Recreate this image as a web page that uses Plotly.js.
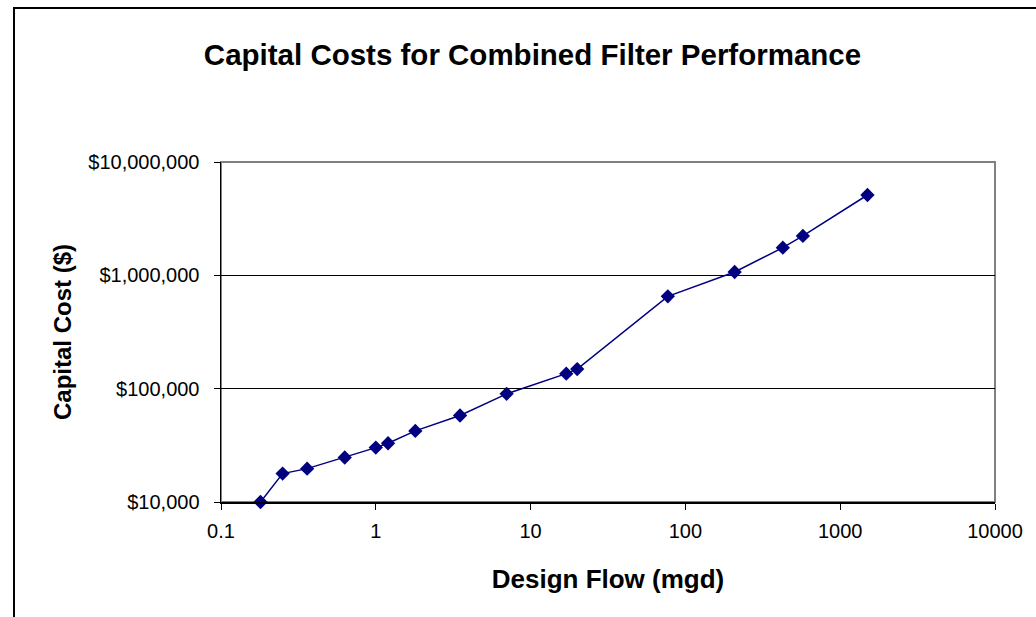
<!DOCTYPE html>
<html>
<head>
<meta charset="utf-8">
<script src="https://cdn.plot.ly/plotly-3.0.1.min.js"></script>
<style>
  html, body { margin: 0; padding: 0; background: #fff; }
  #wrap { position: relative; width: 1036px; height: 617px; }
  #chart { width: 1036px; height: 617px; }
  #frame { position: absolute; left: 13px; top: 7px; width: 1040px; height: 620px;
           border-top: 2px solid #000; border-left: 2px solid #000; pointer-events: none; }
</style>
</head>
<body>
<div id="wrap">
  <div id="chart"></div>
  <div id="frame"></div>
</div>
<script>
// Design flow (mgd)
const designFlow = [0.18, 0.25, 0.36, 0.63, 1.0, 1.2, 1.8, 3.5, 7.0, 17, 20, 77, 208, 426, 574, 1500];
// Capital cost ($)
const capitalCost = [10000, 17800, 19700, 24700, 30200, 33000, 42400, 58000, 90000, 135700, 149000, 653000, 1070000, 1754000, 2225000, 5115000];

const xTickVals = [0.1, 1, 10, 100, 1000, 10000];
const xTickText = ['0.1', '1', '10', '100', '1000', '10000'];
const yTickVals = [10000, 100000, 1000000, 10000000];
const yTickText = ['$10,000', '$100,000', '$1,000,000', '$10,000,000'];

const font = 'Liberation Sans, Arial, sans-serif';

const trace = {
  x: designFlow,
  y: capitalCost,
  type: 'scatter',
  mode: 'lines+markers',
  line: { color: '#000080', width: 1.5 },
  marker: { symbol: 'diamond', size: 11, color: '#000080' },
  cliponaxis: false,
  showlegend: false
};

const layout = {
  width: 1036,
  height: 617,
  margin: { l: 221, r: 41, t: 162, b: 115 },
  paper_bgcolor: '#ffffff',
  plot_bgcolor: '#ffffff',
  font: { family: font, color: '#000' },
  title: {
    text: '<b>Capital Costs for Combined Filter Performance</b>',
    font: { family: font, size: 29.5, color: '#000' },
    x: 0.514, xanchor: 'center',
    y: 0.911, yanchor: 'middle'
  },
  xaxis: {
    type: 'log',
    range: [-1, 4],
    tickmode: 'array',
    tickvals: xTickVals,
    ticktext: xTickText,
    ticks: 'outside',
    ticklen: 6,
    tickcolor: '#000',
    tickfont: { family: font, size: 20, color: '#000' },
    ticklabelstandoff: 4,
    showgrid: false,
    zeroline: false,
    showline: true,
    linecolor: '#000',
    linewidth: 1.5,
    title: { text: '<b>Design Flow (mgd)</b>', font: { family: font, size: 26, color: '#000' }, standoff: 29 }
  },
  yaxis: {
    type: 'log',
    range: [4, 7],
    tickmode: 'array',
    tickvals: yTickVals,
    ticktext: yTickText,
    ticks: 'outside',
    ticklen: 6,
    tickcolor: '#000',
    tickfont: { family: font, size: 20, color: '#000' },
    ticklabelstandoff: 10,
    showgrid: true,
    gridcolor: '#000',
    gridwidth: 1,
    zeroline: false,
    showline: true,
    linecolor: '#000',
    linewidth: 1.5,
    title: { text: '<b>Capital Cost ($)</b>', font: { family: font, size: 24, color: '#000' }, standoff: 10 }
  },
  shapes: [
    { type: 'rect', xref: 'paper', yref: 'paper', x0: 0, x1: 1, y0: 0, y1: 1,
      line: { color: '#808080', width: 2 }, layer: 'below' }
  ]
};

Plotly.newPlot('chart', [trace], layout, { displayModeBar: false, staticPlot: true });
</script>
</body>
</html>
